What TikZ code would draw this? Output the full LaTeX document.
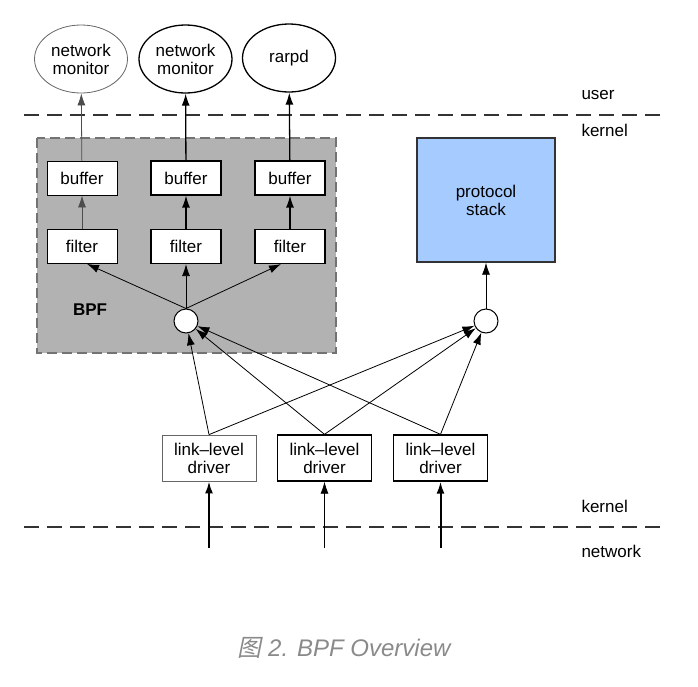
\documentclass[tikz,border=0pt]{standalone}
\usepackage{fontspec}
\setmainfont{Liberation Sans}
\newfontfamily\cjk[FakeSlant=0.2]{Noto Sans CJK SC}
\usepackage{tikz}
\usetikzlibrary{arrows.meta,shapes.geometric}
\definecolor{stackblue}{HTML}{A6CCFF}
\definecolor{capgray}{HTML}{8A8A8A}
\tikzstyle{Box}=[rectangle, minimum width=70, minimum height=34, inner sep=0, draw=black, fill=white, line width=1.2]
\tikzstyle{Driver}=[rectangle, minimum width=94, minimum height=46, inner sep=0, align=center, draw=black, fill=white, line width=1.3]
\tikzstyle{App}=[ellipse, minimum width=93, minimum height=68, inner sep=0, align=center, draw=black, line width=1.3]
\tikzstyle{Tap}=[circle, minimum size=24, inner sep=0, draw=black, fill=white, line width=1]
\tikzstyle{Up}=[-{Latex[length=12pt,width=8pt]}, line width=0.8]
\tikzstyle{Split}=[draw=black!80, line width=1.5, dash pattern=on 15pt off 8pt]

\begin{document}
\begin{tikzpicture}[x=1pt, y=-1pt, font=\fontsize{17}{18}\selectfont]
    \useasboundingbox (0,0) rectangle (698,686);
    % BPF area
    \draw[fill=gray!60, draw=black!55, line width=1.2, dash pattern=on 10pt off 5pt] (37,138) rectangle (336,353);
    \path
    (81,59) node[App, draw=black!60, line width=0.8] (mon1) {network\\monitor}
    (185.5,59) node[App] (mon2) {network\\monitor}
    (289,58) node[App] (rarpd) {rarpd}
    (82,178) node[Box, line width=0.8] (buf1) {buffer}
    (186,178) node[Box] (buf2) {buffer}
    (290,178) node[Box] (buf3) {buffer}
    (82,246.5) node[Box, line width=0.8] (fil1) {filter}
    (186,246.5) node[Box] (fil2) {filter}
    (290,246.5) node[Box] (fil3) {filter}
    (90,310) node[font=\fontsize{17}{18}\selectfont\bfseries] (bpf) {BPF}
    (186,321) node[Tap] (tap1) {}
    (486,321) node[Tap] (tap2) {}
    (486,200) node[rectangle, minimum width=138, minimum height=124, align=center, draw=black!80, fill=stackblue, line width=1.3] (stack) {protocol\\stack}
    (209,458) node[Driver, draw=black!60, line width=0.8] (drv1) {link--level\\driver}
    (324.5,458) node[Driver] (drv2) {link--level\\driver}
    (440.5,458) node[Driver] (drv3) {link--level\\driver};
    \coordinate (in1) at (209,548);
    \coordinate (in2) at (324.5,548);
    \coordinate (in3) at (440.5,548);

    % user / kernel / network boundaries
    \coordinate (ukl) at (24,115);
    \coordinate (ukr) at (665,115);
    \coordinate (knl) at (24,527);
    \coordinate (knr) at (665,527);
    \draw[Split] (ukl) -- (ukr);
    \draw[Split] (knl) -- (knr);
    \path (578,95) node[anchor=west] (user) {user}
    (578,130) node[anchor=west] (kern1) {kernel}
    (578,506) node[anchor=west] (kern2) {kernel}
    (578,551) node[anchor=west] (net) {network};

    \draw[Up, draw=black!70] (buf1) -- (mon1);
    \draw[Up, line width=1.3] (buf2) -- (mon2);
    \draw[Up, line width=1.3] (buf3) -- (rarpd);
    \draw[Up, draw=black!70] (fil1) -- (buf1);
    \draw[Up, line width=1.3] (fil2) -- (buf2);
    \draw[Up, line width=1.3] (fil3) -- (buf3);
    \draw[Up] (tap1.north) -- ([xshift=5pt]fil1.south);
    \draw[Up] (tap1.north) -- (fil2.south);
    \draw[Up] (tap1.north) -- ([xshift=-9pt]fil3.south);
    \draw[Up] (tap2) -- (stack);
    \draw[Up] (drv1.north) -- (tap1);
    \draw[Up] (drv2.north) -- (tap1);
    \draw[Up] (drv3.north) -- (tap1);
    \draw[Up] (drv1.north) -- (tap2);
    \draw[Up] (drv2.north) -- (tap2);
    \draw[Up] (drv3.north) -- (tap2);
    \draw[Up, line width=2] (in1) -- (drv1);
    \draw[Up] (in2) -- (drv2);
    \draw[Up, line width=2] (in3) -- (drv3);

    \path (344,648) node[text=capgray, font=\fontsize{24}{26}\selectfont\itshape] (caption) {{\cjk 图} 2. BPF Overview};
\end{tikzpicture}
\end{document}
